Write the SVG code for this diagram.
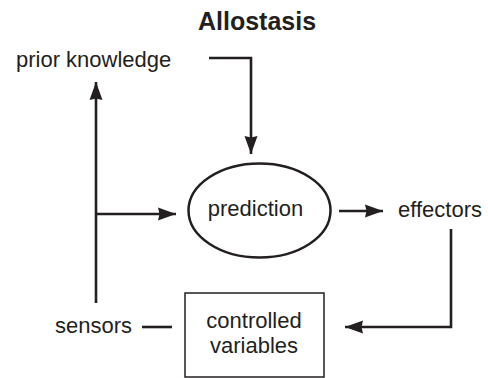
<svg xmlns="http://www.w3.org/2000/svg" width="488" height="378" viewBox="0 0 488 378">
<defs>
<style>
text{font-family:"Liberation Sans",Arial,sans-serif;font-size:22px;fill:#231f20}
.title{font-weight:bold;font-size:25px}
.ln{fill:none;stroke:#231f20;stroke-width:2.6}
</style>
<marker id="ah" markerUnits="userSpaceOnUse" markerWidth="18" markerHeight="14" refX="18" refY="7" orient="auto">
<path d="M0,0.5 L18,7 L0,13.5 L1.5,7 Z" fill="#231f20"/>
</marker>
</defs>
<rect width="488" height="378" fill="#fff"/>
<text class="title" x="257" y="30" text-anchor="middle">Allostasis</text>
<g id="prior-knowledge"><text x="16" y="67">prior knowledge</text></g>
<g id="prediction">
<ellipse cx="259.5" cy="210.5" rx="71" ry="47" fill="#fff" stroke="#231f20" stroke-width="2.5"/>
<text x="255.5" y="216" text-anchor="middle">prediction</text>
</g>
<g id="effectors"><text x="398" y="217">effectors</text></g>
<g id="sensors"><text x="55" y="333">sensors</text></g>
<g id="controlled-variables">
<rect x="185" y="293" width="139" height="84" fill="#fff" stroke="#231f20" stroke-width="1.5"/>
<text x="254" y="328" text-anchor="middle">controlled</text>
<text x="254" y="353" text-anchor="middle">variables</text>
</g>
<g id="connectors">
<path class="ln" d="M209,58 H251 V154" marker-end="url(#ah)"/>
<path class="ln" d="M96,303 V82" marker-end="url(#ah)"/>
<path class="ln" d="M96,214 H176" marker-end="url(#ah)"/>
<path class="ln" d="M339,211 H383" marker-end="url(#ah)"/>
<path class="ln" d="M451,229 V327 H345" marker-end="url(#ah)"/>
<path class="ln" d="M142,327 H172"/>
</g>
</svg>
